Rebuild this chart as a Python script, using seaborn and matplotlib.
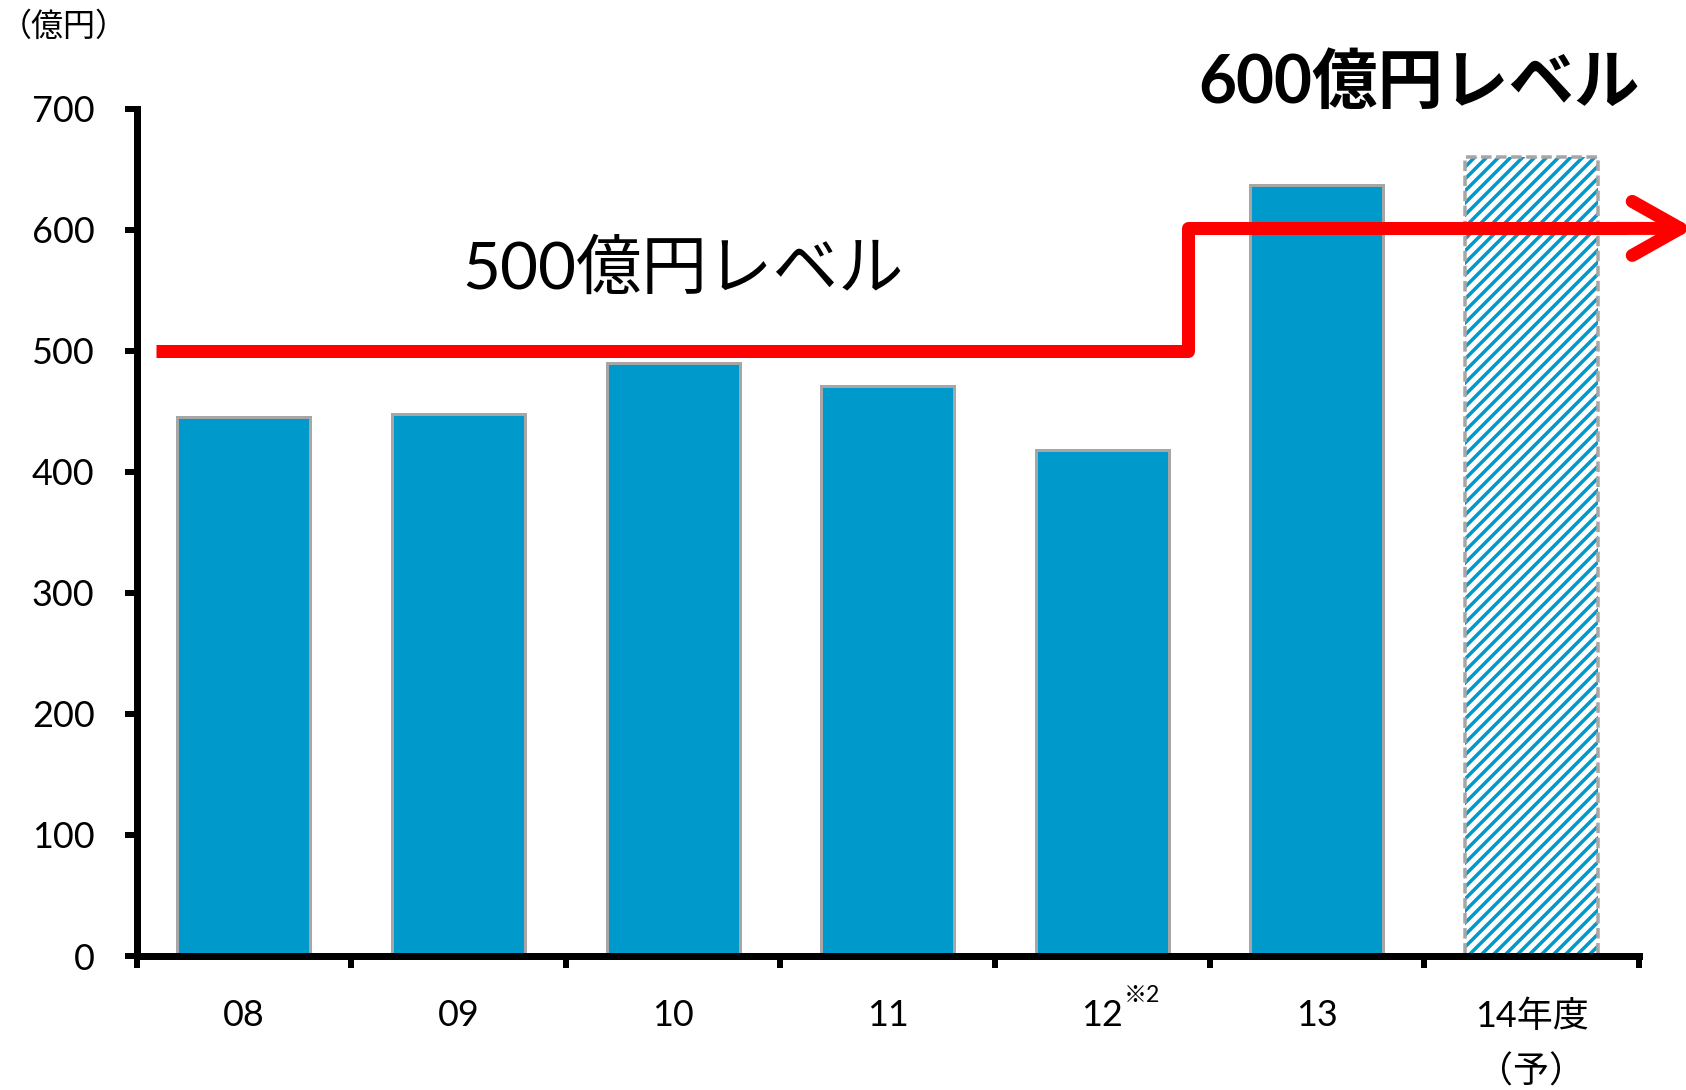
import matplotlib
matplotlib.use('Agg')
import matplotlib.pyplot as plt
import matplotlib.transforms as mtransforms
from matplotlib.patches import Rectangle
import seaborn as sns
import pandas as pd

# ---- data ----
years = ['08', '09', '10', '11', '12', '13', '14']
tick_labels = ['08', '09', '10', '11', '12', '13', '14年度\n（予）']
values = [445, 448, 490, 471, 418, 637, 660]
y_ticks = [0, 100, 200, 300, 400, 500, 600, 700]
level_x = [-0.41, 4.40, 4.40, 6.45]
level_y = [500, 500, 601, 601]
arrow_x = [6.40, 6.755]
label_500 = '500億円レベル'
label_600 = '600億円レベル'
unit_label = '（億円）'
footnote = '※2'

BLUE = '#0099CC'
GRAY = '#A6A6A6'
RED = '#FF0000'

sns.set_style('ticks')
plt.rcParams['font.family'] = ['Lato', 'Noto Sans CJK JP', 'DejaVu Sans']
plt.rcParams['hatch.linewidth'] = 3.5
plt.rcParams['text.color'] = 'black'

DPI = 72
fig = plt.figure(figsize=(1686 / DPI, 1090 / DPI), dpi=DPI)
ax = fig.add_axes([0.081, 0.1229, 0.891, 0.7775])

df = pd.DataFrame({'year': years, 'value': values})
sns.barplot(data=df, x='year', y='value', color=BLUE, saturation=1,
            width=0.62, edgecolor=GRAY, linewidth=3, ax=ax, zorder=2)

# forecast bar: hatched with dashed outline
p = ax.patches[-1]
p.set_facecolor('white')
p.set_edgecolor(BLUE)
p.set_hatch('//')
p.set_linewidth(0)
outline = Rectangle(p.get_xy(), p.get_width(), p.get_height(), fill=False,
                    edgecolor=GRAY, linewidth=3.5, linestyle=(0, (3, 1.3)),
                    zorder=2.5)
ax.add_patch(outline)

# red level line
ax.plot(level_x, level_y, color=RED, lw=13, solid_joinstyle='round',
        solid_capstyle='butt', clip_on=False, zorder=4)
ax.annotate('', xy=(arrow_x[1], level_y[-1]), xytext=(arrow_x[0], level_y[-1]),
            annotation_clip=False,
            arrowprops=dict(arrowstyle='->,head_length=0.48,head_width=0.27',
                            mutation_scale=100, color=RED, lw=13,
                            capstyle='round', joinstyle='round',
                            shrinkA=0, shrinkB=0))

ax.text(1.016, 567, label_500, fontsize=65.5, ha='left', va='center',
        color='black', clip_on=False, zorder=5)
ax.text(6.505, 720, label_600, fontsize=65.5, fontweight='bold', ha='right',
        va='center', color='black', clip_on=False, zorder=5)

ax.set_xlim(-0.5, 6.5)
ax.set_ylim(0, 700)
ax.set_yticks(y_ticks)
ax.set_yticklabels([str(v) for v in y_ticks])
ax.set_xticks([i - 0.5 for i in range(len(years) + 1)])
ax.set_xticklabels([])
ax.set_xticks(range(len(years)), minor=True)
ax.set_xticklabels(tick_labels, minor=True)
for lab in ax.get_xticklabels(minor=True):
    lab.set_linespacing(1.78)
ax.set_xlabel('')
ax.set_ylabel('')

ax.tick_params(axis='y', labelsize=36, length=12, width=6, pad=30,
               direction='out', color='black', labelcolor='black')
ax.tick_params(axis='x', which='major', length=12, width=6,
               direction='out', color='black')
ax.tick_params(axis='x', which='minor', length=0, pad=43, labelsize=36,
               labelcolor='black')

for s in ['top', 'right']:
    ax.spines[s].set_visible(False)
for s in ['left', 'bottom']:
    ax.spines[s].set_linewidth(7)
    ax.spines[s].set_color('black')
    ax.spines[s].set_zorder(6)

trans = mtransforms.blended_transform_factory(ax.transData, ax.transAxes)
ax.text(4.10, -0.046, footnote, transform=trans, fontsize=23, ha='left',
        va='center', color='black')

fig.text(0.0, 1 - 27 / 1090, unit_label, fontsize=32, ha='left', va='center',
         color='black')

fig.savefig('out.png', dpi=DPI, facecolor='white')
